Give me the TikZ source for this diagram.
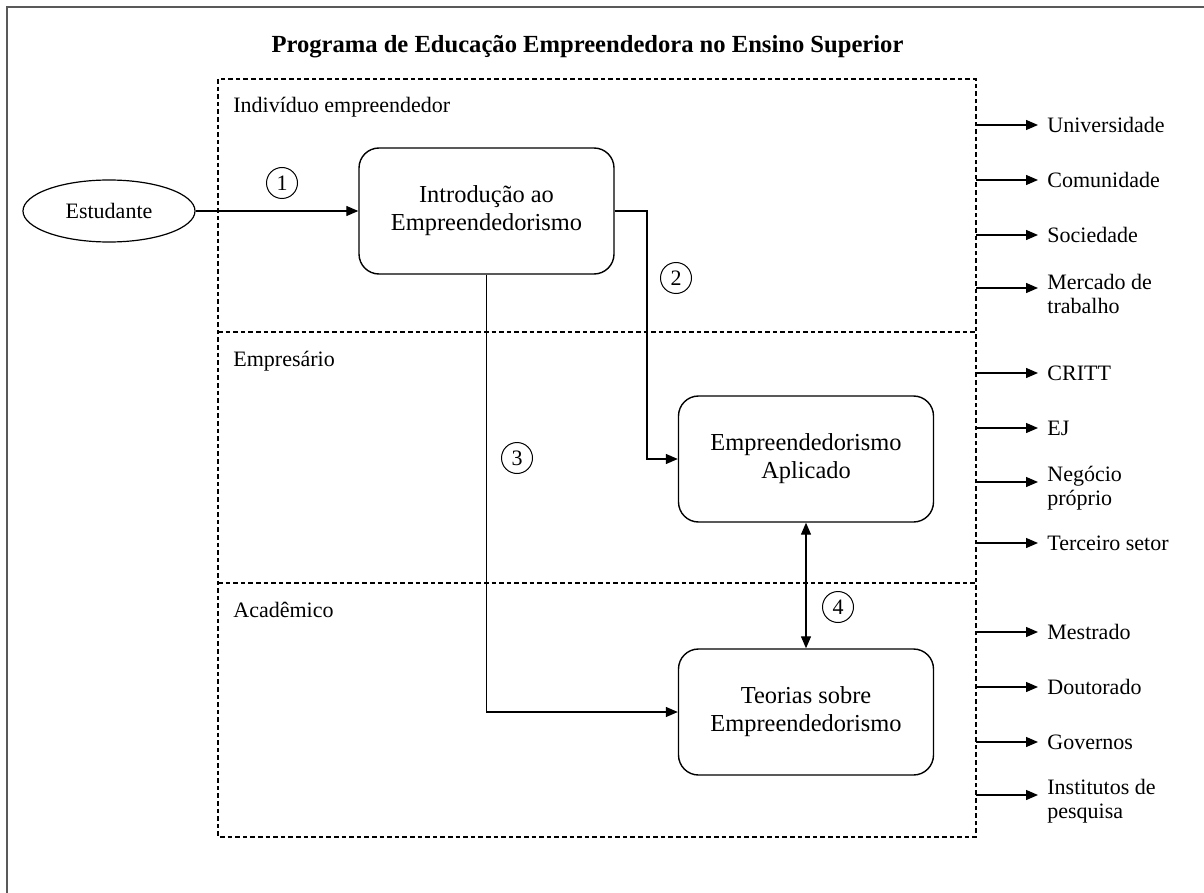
\documentclass[tikz,border=0pt]{standalone}
\usepackage{fontspec}
\setmainfont{Liberation Serif}
\usepackage{tikz}
\usetikzlibrary{arrows.meta,shapes.geometric}
\newcommand{\labfont}{\fontsize{11}{12}\selectfont}
\newcommand{\boxfont}{\fontsize{12.2}{14}\selectfont}
\newcommand{\titlefont}{\fontsize{12.3}{14}\selectfont\bfseries}

\begin{document}
\begin{tikzpicture}[
      x=0.5pt, y=-0.5pt,
      frame/.style={draw=black!65, line width=0.8pt},
      zone/.style={draw, dashed, dash pattern=on 2.3pt off 1.5pt, line width=0.6pt},
      stagebox/.style={draw, line width=0.7pt, rounded corners=10pt, align=center,
        minimum width=127.5pt, minimum height=63pt, font=\boxfont},
      student/.style={draw, ellipse, line width=0.6pt, minimum width=86pt,
        minimum height=31pt, inner sep=0, font=\labfont},
      stepnum/.style={draw, circle, line width=0.5pt, minimum size=15.5pt,
        inner sep=0, font=\labfont},
      zonelab/.style={anchor=base west, inner sep=0, font=\labfont},
      outlab/.style={anchor=west, inner xsep=4.5pt, inner ysep=0, align=left, font=\labfont},
      twoline/.style={yshift=-3pt},
      flow/.style={draw, line width=0.65pt, -{Triangle[length=6pt,width=5pt]}},
      both/.style={draw, line width=0.65pt, {Triangle[length=6pt,width=5pt]}-{Triangle[length=6pt,width=5pt]}}
  ]
  \useasboundingbox (0,0) rectangle (1204,893);
  \draw[frame] (7,893) -- (7,7) -- (1204,7);

  \node[font=\titlefont] (title) at (587.5,47) {Programa de Educação Empreendedora no Ensino Superior};

  % zones
  \draw[zone] (218,79) rectangle (976,837);
  \draw[zone] (218,332) -- (976,332);
  \draw[zone] (218,583) -- (976,583);
  \node[zonelab] (z1) at (233,113) {Indivíduo empreendedor};
  \node[zonelab] (z2) at (233,366) {Empresário};
  \node[zonelab] (z3) at (233,617) {Acadêmico};

  % stages
  \node[student] (stud) at (109,211) {Estudante};
  \node[stagebox] (intro) at (486.5,211) {Introdução ao\\Empreendedorismo};
  \node[stagebox] (aplic) at (806,459) {Empreendedorismo\\Aplicado};
  \node[stagebox] (teor) at (806,712) {Teorias sobre\\Empreendedorismo};

  \node[stepnum] (n1) at (282,183) {1};
  \node[stepnum] (n2) at (676,278) {2};
  \node[stepnum] (n3) at (517,458) {3};
  \node[stepnum] (n4) at (838,607) {4};

  \coordinate (bend2) at (647,211);
  \draw[flow] (stud) -- (intro);
  \draw[flow] (intro.east) -- (bend2) |- (aplic.west);
  \draw[flow] (intro.south) |- (teor.west);
  \draw[both] (aplic.south) -- (teor.north);

  % outcomes
  \coordinate (s1) at (976,125);
  \coordinate (s2) at (976,180);
  \coordinate (s3) at (976,235);
  \coordinate (s4) at (976,288);
  \coordinate (s5) at (976,373);
  \coordinate (s6) at (976,428);
  \coordinate (s7) at (976,482);
  \coordinate (s8) at (976,543);
  \coordinate (s9) at (976,632);
  \coordinate (s10) at (976,687);
  \coordinate (s11) at (976,742);
  \coordinate (s12) at (976,795);

  \node[outlab] (o1) at (1038,125) {Universidade};
  \node[outlab] (o2) at (1038,180) {Comunidade};
  \node[outlab] (o3) at (1038,235) {Sociedade};
  \node[outlab, twoline] (o4) at (1038,288) {Mercado de\\trabalho};
  \node[outlab] (o5) at (1038,373) {CRITT};
  \node[outlab] (o6) at (1038,428) {EJ};
  \node[outlab, twoline] (o7) at (1038,482) {Negócio\\próprio};
  \node[outlab] (o8) at (1038,543) {Terceiro setor};
  \node[outlab] (o9) at (1038,632) {Mestrado};
  \node[outlab] (o10) at (1038,687) {Doutorado};
  \node[outlab] (o11) at (1038,742) {Governos};
  \node[outlab, twoline] (o12) at (1038,795) {Institutos de\\pesquisa};

  \draw[flow] (s1) -- (s1 -| o1.west);
  \draw[flow] (s2) -- (s2 -| o2.west);
  \draw[flow] (s3) -- (s3 -| o3.west);
  \draw[flow] (s4) -- (s4 -| o4.west);
  \draw[flow] (s5) -- (s5 -| o5.west);
  \draw[flow] (s6) -- (s6 -| o6.west);
  \draw[flow] (s7) -- (s7 -| o7.west);
  \draw[flow] (s8) -- (s8 -| o8.west);
  \draw[flow] (s9) -- (s9 -| o9.west);
  \draw[flow] (s10) -- (s10 -| o10.west);
  \draw[flow] (s11) -- (s11 -| o11.west);
  \draw[flow] (s12) -- (s12 -| o12.west);

\end{tikzpicture}
\end{document}
